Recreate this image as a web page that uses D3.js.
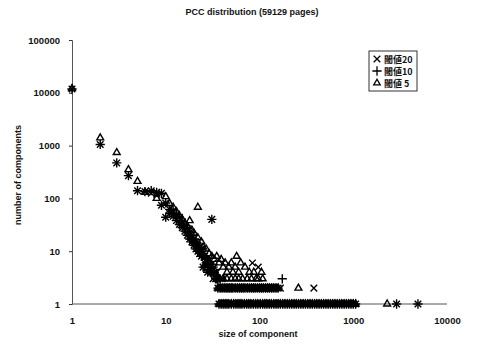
<!DOCTYPE html>
<html>
<head>
<meta charset="utf-8">
<script src="https://cdn.jsdelivr.net/npm/d3@7"></script>
<style>
  body { margin: 0; background: #fff; }
  text { font-family: "Liberation Sans", Arial, sans-serif; font-weight: bold; fill: #111; }
</style>
</head>
<body>
<div id="chart"></div>
<script>
// size of component -> number of components
const labels = ['閾値20', '閾値10', '閾値 5'];
const yTicks = [1, 10, 100, 1000, 10000, 100000];
const xTicks = [1, 10, 100, 1000, 10000];

const t20 = [[1,11800],[2,1050],[3,470],[4,270],[5,140],[6,135],[7,140],[7,125],[8,130],[8,120],[9,125],[9,74],
  [10,82],[10,44],[11,62],[11,52],[12,58],[12,46],[13,50],[13,38],[14,44],[14,32],[15,36],[15,28],[16,31],[16,24],
  [17,27],[17,20],[18,23],[18,17],[19,20],[19,15],[20,17],[20,13],[21,15],[21,11],[22,13],[22,10],[23,12],[23,9],
  [24,11],[24,8],[25,9],[25,5],[26,8],[26,6],[27,7],[27,5],[28,6],[28,4],[29,7],[29,5],[30,5],[30,4],[31,40],[31,4],
  [32,6],[32,3],[33,5],[33,4],[34,4],[34,3],[35,4],[35,3],[36,3],[38,3],[40,3],[84,6],[97,5],[167,2],[380,2],
  [2900,1],[4900,1]];

const t10 = [[1,11800],[2,1050],[3,470],[4,270],[5,140],[6,135],[7,140],[8,130],[9,125],[9,74],
  [10,82],[10,44],[11,62],[11,52],[12,58],[12,46],[13,50],[13,38],[14,44],[14,32],[15,36],[15,28],[16,31],[16,24],
  [17,27],[17,20],[18,23],[18,17],[19,20],[19,15],[20,17],[20,13],[21,15],[21,11],[22,13],[22,10],[23,12],[23,9],
  [24,11],[24,8],[25,9],[25,5],[26,8],[26,5],[27,7],[27,6],[28,6],[28,4],[29,6],[30,5],[30,4],[31,40],[31,4],
  [32,5],[33,4],[34,3],[35,3],[36,3],[38,3],[175,3],[2900,1],[4900,1]];

const t5 = [[1,12000],[2,1400],[3,740],[4,350],[5,210],[6,130],[8,100],[10,108],[11,80],[12,68],[13,56],[14,47],
  [15,40],[16,34],[17,30],[18,38],[19,25],[20,22],[22,68],[22,18],[24,15],[25,12],[27,11],[29,9],[31,8],[33,7],
  [35,8],[37,6],[39,7],[41,5],[41,3],[43,6],[45,4],[45,3],[47,5],[50,6],[50,3],[52,4],[55,5],[55,3],[57,8],[60,4],
  [60,3],[63,6],[66,3],[70,5],[74,3],[78,4],[82,3],[87,4],[92,3],[97,3],[105,4],[108,3],[260,2],[2300,1]];

// sizes that show up with count 2 and count 1 under every threshold
const band2Sizes = [36,38,40,42,44,46,48,50,52,55,58,61,64,67,70,74,78,82,86,90,95,100,105,110,116,122,128,135,142,150,158];
const band1Sizes = [37,39,41,43,45,47,50,53,56,59,62,65,69,73,77,81,86,91,96,102,108,114,120,127,134,142,150,158,167,
  177,187,198,209,221,234,247,261,276,292,309,327,346,366,387,409,432,457,483,511,540,571,604,639,676,715,756,800,
  846,895,946,1000,1060];

const width = 488, height = 345;
const svg = d3.select('#chart').append('svg')
  .attr('width', width).attr('height', height);

const x = d3.scaleLog().domain([1, 10000]).range([72, 447]);
const y = d3.scaleLog().domain([1, 100000]).range([304, 40]);

const band = band2Sizes.map(s => [s, 2]).concat(band1Sizes.map(s => [s, 1]));
const series = [
  { name: labels[0], type: d3.symbolTimes, data: t20.concat(band) },
  { name: labels[1], type: d3.symbolPlus, data: t10.concat(band) },
  { name: labels[2], type: d3.symbolTriangle2, data: t5.concat(band) }
];

// axes
svg.append('g')
  .attr('transform', `translate(${x(1)},0)`)
  .call(d3.axisLeft(y).tickValues(yTicks).tickFormat(d3.format('d')).tickSize(3).tickPadding(9));
const xAxis = svg.append('g')
  .attr('transform', `translate(0,${y(1)})`)
  .call(d3.axisBottom(x).tickValues(xTicks).tickFormat(d3.format('d')).tickSize(0).tickPadding(13));
xAxis.select('.domain').attr('d', `M${x(1)},0H${x(10000)}`);
svg.selectAll('.domain').attr('stroke', '#555').attr('stroke-width', 1);
svg.selectAll('.tick line').attr('stroke', '#333');
svg.selectAll('.tick text').style('font-size', '9.5px').attr('fill', '#111');

// points
series.forEach(s => {
  svg.append('g').selectAll('path')
    .data(s.data)
    .enter().append('path')
    .attr('transform', d => `translate(${x(d[0])},${y(d[1])})`)
    .attr('d', d3.symbol().type(s.type).size(s.type === d3.symbolTriangle2 ? 34 : 30))
    .attr('fill', 'none')
    .attr('stroke', '#000')
    .attr('stroke-width', 1.4);
});

// titles
svg.append('text').attr('x', 252).attr('y', 15).attr('text-anchor', 'middle')
  .style('font-size', '9px').text('PCC distribution (59129 pages)');
svg.append('text').attr('x', 258).attr('y', 337).attr('text-anchor', 'middle')
  .style('font-size', '9px').text('size of component');
svg.append('text').attr('transform', 'translate(21,175) rotate(-90)').attr('text-anchor', 'middle')
  .style('font-size', '9px').text('number of components');

// legend
const legend = svg.append('g').attr('transform', 'translate(369,51)');
legend.append('rect').attr('width', 48).attr('height', 40)
  .attr('fill', '#fff').attr('stroke', '#333').attr('stroke-width', 1);
series.forEach((s, i) => {
  const row = legend.append('g').attr('transform', `translate(0,${8 + i * 12})`);
  row.append('path').attr('transform', 'translate(8,0)')
    .attr('d', d3.symbol().type(s.type).size(30))
    .attr('fill', 'none').attr('stroke', '#000').attr('stroke-width', 1.3);
  row.append('text').attr('x', 15).attr('y', 3.5)
    .style('font-family', '"Noto Sans CJK JP", sans-serif')
    .style('font-size', '9px').text(s.name);
});
</script>
</body>
</html>
